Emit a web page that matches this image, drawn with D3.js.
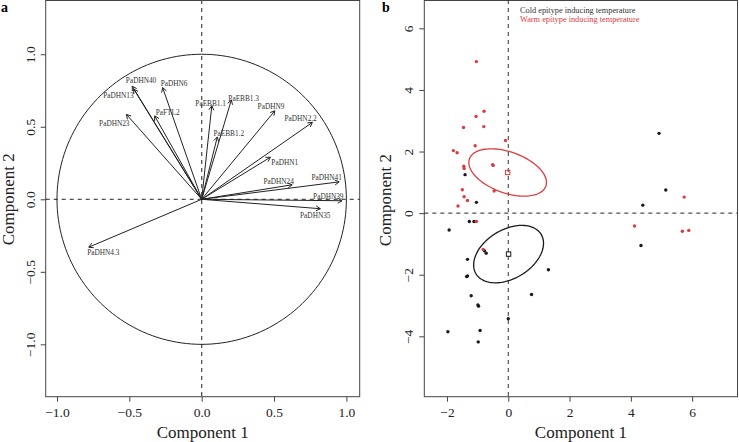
<!DOCTYPE html>
<html><head><meta charset="utf-8">
<script src="https://cdn.jsdelivr.net/npm/d3@7"></script>
<style>
body{margin:0;background:#fff}
svg{display:block}
text{font-family:"Liberation Serif","Times New Roman",serif}
</style>
</head><body>
<svg id="c" width="739" height="442"></svg>
<script>
// ---------- Panel a: correlation circle ----------
const varNames = ["PaDHN40","PaDHN13","PaDHN6","PaFTL2","PaDHN23","PaEBB1.1","PaEBB1.3","PaEBB1.2",
                  "PaDHN9","PaDHN2.2","PaDHN1","PaDHN24","PaDHN41","PaDHN39","PaDHN35","PaDHN4.3"];
const loadX  = [-0.48,-0.47,-0.27,-0.325,-0.52,0.07,0.205,0.108,0.505,0.765,0.475,0.625,0.95,0.97,0.82,-0.78];
const loadY  = [0.78,0.76,0.77,0.575,0.585,0.645,0.685,0.43,0.61,0.53,0.29,0.10,0.12,-0.01,-0.065,-0.33];
const labelX = [-0.419,-0.576,-0.191,-0.235,-0.604,0.062,0.290,0.187,0.479,0.684,0.574,0.532,0.864,0.875,0.785,-0.680];
const labelY = [0.816,0.714,0.797,0.597,0.524,0.659,0.697,0.455,0.639,0.554,0.255,0.121,0.149,0.018,-0.113,-0.366];
const ticksA = [-1,-0.5,0,0.5,1];

// ---------- Panel b: scores ----------
const coldX = [-1.41,-1.04,-1.27,-1.12,-1.93,-0.78,-0.72,-1.33,-1.36,-1.33,1.31,-1.21,0.76,-0.99,-0.97,0.00,-1.97,-0.92,-0.98,4.92,5.14,4.39,4.33];
const coldY = [1.25,0.35,-0.27,-0.27,-0.55,-1.22,-1.30,-1.50,-2.06,-2.04,-1.84,-2.68,-2.64,-2.98,-3.02,-3.43,-3.85,-3.81,-4.18,2.59,0.75,0.26,-1.05];
const warmX = [-1.04,-0.79,-1.05,-1.46,-0.80,-1.08,-0.09,-1.79,-1.67,-0.51,-0.49,-1.45,-1.44,-0.46,-1.50,-1.44,-1.33,-1.64,-1.04,-0.82,4.12,5.74,5.68,5.89];
const warmY = [4.92,3.31,3.14,2.78,2.81,2.19,2.36,2.03,1.96,1.57,1.55,1.52,1.45,0.72,0.76,0.53,0.41,0.23,-0.27,-1.18,-0.42,0.52,-0.59,-0.56];
const groupNames = ["Cold epitype inducing temperature","Warm epitype inducing temperature"];
const groupColors = ["#1a1a1a","#df3a40"];
const centerX = [0.01,-0.02];
const centerY = [-1.33,1.32];
const covXX = [1.300,1.605];
const covXY = [0.401,-0.412];
const covYY = [0.869,0.591];
const ticksBX = [-2,0,2,4,6];
const ticksBY = [-4,-2,0,2,4,6];

const svg = d3.select("#c");
const fmt1 = d3.format(".1f");

function drawFrame(g, xs, ys, xt, yt, xfmt, yfmt, yLabX) {
  const [x0,x1] = xs.range(), [y0,y1] = ys.range();
  g.append("rect").attr("x",x0).attr("y",y1+0.5).attr("width",x1-x0).attr("height",y0-y1-0.5)
    .attr("fill","none").attr("stroke","#444").attr("stroke-width",1);
  const ax = g.append("g").attr("transform",`translate(0,${y0})`)
    .call(d3.axisBottom(xs).tickValues(xt).tickSize(5).tickPadding(3).tickFormat(xfmt));
  ax.select(".domain").remove();
  ax.selectAll("line").attr("stroke","#444");
  ax.selectAll("text").attr("font-size",13.5).attr("fill","#222")
    .attr("font-family","'Liberation Serif',serif").attr("y",null).attr("dy",null)
    .attr("transform","translate(0,20.5)");
  const ay = g.append("g").attr("transform",`translate(${x0},0)`)
    .call(d3.axisLeft(ys).tickValues(yt).tickSize(5).tickFormat(yfmt));
  ay.select(".domain").remove();
  ay.selectAll("line").attr("stroke","#444");
  ay.selectAll("text").attr("font-size",13.5).attr("fill","#222")
    .attr("font-family","'Liberation Serif',serif")
    .attr("x",null).attr("dy",null).attr("text-anchor","middle")
    .attr("transform",`translate(${yLabX - x0},0) rotate(-90)`);
}

// ===== Panel a =====
const xa = d3.scaleLinear().domain([-1.078,1.092]).range([45.7,359.7]);
const ya = d3.scaleLinear().domain([-1.361,1.374]).range([396.7,0]);
const ga = svg.append("g");
drawFrame(ga, xa, ya, ticksA, ticksA, fmt1, fmt1, 34.5);

// dashed axes
ga.append("line").attr("x1",xa.range()[0]).attr("x2",xa.range()[1]).attr("y1",ya(0)).attr("y2",ya(0))
  .attr("stroke","#222").attr("stroke-dasharray","4,4");
ga.append("line").attr("x1",xa(0)).attr("x2",xa(0)).attr("y1",ya.range()[1]).attr("y2",ya.range()[0])
  .attr("stroke","#555").attr("stroke-width",1.3).attr("stroke-dasharray","4,4");
// unit circle
const circ = d3.range(0,361,2).map(a=>[xa(Math.cos(a*Math.PI/180)), ya(Math.sin(a*Math.PI/180))]);
ga.append("path").attr("d",d3.line()(circ)).attr("fill","none").attr("stroke","#222").attr("stroke-width",1);
// arrows
varNames.forEach((n,i)=>{
  const x0 = xa(0), y0 = ya(0), x1 = xa(loadX[i]), y1 = ya(loadY[i]);
  const ang = Math.atan2(y1-y0, x1-x0), L = 5, h = Math.PI/6;
  const p = `M${x0},${y0}L${x1},${y1}` +
    `M${x1 - L*Math.cos(ang-h)},${y1 - L*Math.sin(ang-h)}L${x1},${y1}L${x1 - L*Math.cos(ang+h)},${y1 - L*Math.sin(ang+h)}`;
  ga.append("path").attr("d",p).attr("fill","none").attr("stroke","#222").attr("stroke-width",1);
});
ga.selectAll("text.lab").data(varNames).join("text").attr("class","lab")
  .attr("x",(d,i)=>xa(labelX[i])).attr("y",(d,i)=>ya(labelY[i]))
  .attr("dy","0.35em").attr("text-anchor","middle").attr("font-size",7.3).attr("fill","#333").text(d=>d);

ga.append("text").attr("x",xa.range()[0]+(xa.range()[1]-xa.range()[0])/2).attr("y",438)
  .attr("text-anchor","middle").attr("font-size",17).attr("fill","#222").text("Component 1");
ga.append("text").attr("transform",`translate(13.5,${ya(0)}) rotate(-90)`)
  .attr("text-anchor","middle").attr("font-size",17).attr("fill","#222").text("Component 2");
ga.append("text").attr("x",1).attr("y",12).attr("font-size",14).attr("font-weight","bold").text("a");

// ===== Panel b =====
const xb = d3.scaleLinear().domain([-2.74,7.48]).range([424.3,737.5]);
const yb = d3.scaleLinear().domain([-5.96,6.92]).range([396.7,0]);
const gb = svg.append("g");
drawFrame(gb, xb, yb, ticksBX, ticksBY, d3.format("d"), d3.format("d"), 412.5);

gb.append("line").attr("x1",xb.range()[0]).attr("x2",xb.range()[1]).attr("y1",yb(0)).attr("y2",yb(0))
  .attr("stroke","#222").attr("stroke-dasharray","4,4");
gb.append("line").attr("x1",xb(0)).attr("x2",xb(0)).attr("y1",yb.range()[1]).attr("y2",yb.range()[0])
  .attr("stroke","#333").attr("stroke-dasharray","4,4");

// ellipses + centroids
[0,1].forEach(k=>{
  const lxx = Math.sqrt(covXX[k]), lyx = covXY[k]/lxx, lyy = Math.sqrt(covYY[k]-lyx*lyx);
  const pts = d3.range(0,361,3).map(a=>{
    const t = a*Math.PI/180;
    return [xb(centerX[k] + lxx*Math.cos(t)), yb(centerY[k] + lyx*Math.cos(t) + lyy*Math.sin(t))];
  });
  gb.append("path").attr("d",d3.line()(pts)).attr("fill","none").attr("stroke",groupColors[k]).attr("stroke-width",1.3);
  gb.append("rect").attr("x",xb(centerX[k])-2.2).attr("y",yb(centerY[k])-2.2).attr("width",4.4).attr("height",4.4)
    .attr("fill","none").attr("stroke",groupColors[k]).attr("stroke-width",1);
});
// points
gb.selectAll("circle.cold").data(coldX).join("circle").attr("class","cold")
  .attr("cx",(d)=>xb(d)).attr("cy",(d,i)=>yb(coldY[i])).attr("r",1.7).attr("fill",groupColors[0]);
gb.selectAll("circle.warm").data(warmX).join("circle").attr("class","warm")
  .attr("cx",(d)=>xb(d)).attr("cy",(d,i)=>yb(warmY[i])).attr("r",1.7).attr("fill",groupColors[1]);

// legend
groupNames.forEach((n,k)=>{
  gb.append("text").attr("x",520).attr("y",13+k*9).attr("font-size",8.3)
    .attr("fill",k===0?"#333":groupColors[1]).text(n);
});

gb.append("text").attr("x",(xb.range()[0]+xb.range()[1])/2).attr("y",438)
  .attr("text-anchor","middle").attr("font-size",17).attr("fill","#222").text("Component 1");
gb.append("text").attr("transform",`translate(390.5,${yb(0)-13}) rotate(-90)`)
  .attr("text-anchor","middle").attr("font-size",17).attr("fill","#222").text("Component 2");
gb.append("text").attr("x",382).attr("y",12).attr("font-size",14).attr("font-weight","bold").text("b");
</script>
</body></html>
